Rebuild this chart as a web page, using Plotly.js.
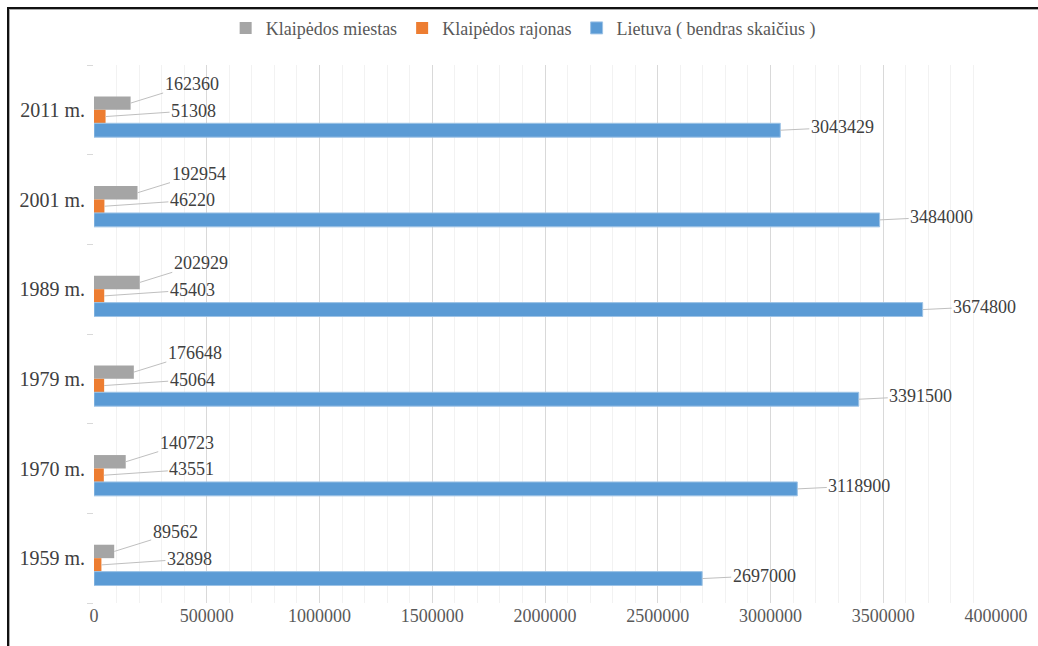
<!DOCTYPE html>
<html>
<head>
<meta charset="utf-8">
<script src="https://cdn.plot.ly/plotly-3.0.1.min.js"></script>
<style>
  html, body { margin: 0; padding: 0; background: #fff; overflow: hidden; }
  #wrap { position: relative; width: 1038px; height: 646px; }
  #chart { width: 1038px; height: 646px; }
  #frame { position: absolute; left: 7px; top: 7px; width: 1100px; height: 700px;
           border-top: 2px solid #111; border-left: 2px solid #111; pointer-events: none;
           box-shadow: inset 1px 1px 0 #aaa; }
</style>
</head>
<body>
<div id="wrap">
  <div id="chart"></div>
  <div id="frame"></div>
</div>
<script>
// ---- data ----
const categories = ['1959 m.', '1970 m.', '1979 m.', '1989 m.', '2001 m.', '2011 m.'];
const seriesNames = ['Klaipėdos miestas', 'Klaipėdos rajonas', 'Lietuva ( bendras skaičius )'];
const miestas = [89562, 140723, 176648, 202929, 192954, 162360];
const rajonas = [32898, 43551, 45064, 45403, 46220, 51308];
const lietuva = [2697000, 3118900, 3391500, 3674800, 3484000, 3043429];
const xTickVals = [0, 500000, 1000000, 1500000, 2000000, 2500000, 3000000, 3500000, 4000000];

// ---- styling ----
const colors = ['#A5A5A5', '#ED7D31', '#5B9BD5'];
const seriesData = [miestas, rajonas, lietuva];
const barWidths = [0.15, 0.15, 0.155];
const barOffsets = [0, -0.15, -0.305];
const labelShift = [{ax: 61, ay: -19}, {ax: 88, ay: -6}, {ax: 62, ay: -3}];
const serif = 'Liberation Serif';

const traces = seriesData.map((vals, i) => ({
  type: 'bar',
  orientation: 'h',
  name: seriesNames[i],
  y: categories,
  x: vals,
  width: categories.map(() => barWidths[i]),
  offset: categories.map(() => barOffsets[i]),
  marker: {
    color: colors[i],
    line: { width: i === 2 ? 1 : 0, color: '#9DC3E6' }
  },
  hoverinfo: 'x+name'
}));

const annotations = [];
seriesData.forEach((vals, i) => {
  vals.forEach((v, j) => {
    annotations.push({
      x: v,
      y: j + barOffsets[i] + barWidths[i] / 2,
      xref: 'x', yref: 'y',
      text: String(v),
      showarrow: true,
      arrowhead: 0,
      arrowwidth: 1,
      arrowcolor: '#BFBFBF',
      standoff: 0,
      ax: labelShift[i].ax,
      ay: labelShift[i].ay,
      font: { family: serif, size: 18, color: '#404040' }
    });
  });
});

const layout = {
  width: 1038,
  height: 646,
  font: { family: serif, size: 17, color: '#595959' },
  margin: { l: 94, r: 42, t: 65, b: 43 },
  paper_bgcolor: '#fff',
  plot_bgcolor: '#fff',
  barmode: 'overlay',
  showlegend: true,
  legend: {
    orientation: 'h',
    xref: 'container', yref: 'container',
    x: 0.504, xanchor: 'center',
    y: 0.985, yanchor: 'top',
    font: { family: serif, size: 18, color: '#595959' },
    itemwidth: 30,
    traceorder: 'normal'
  },
  xaxis: {
    range: [0, 4000000],
    tickvals: xTickVals,
    tickformat: 'd',
    showgrid: true,
    gridcolor: '#D9D9D9',
    gridwidth: 1,
    zeroline: false,
    showline: false,
    ticks: '',
    tickfont: { family: serif, size: 18, color: '#595959' },
    minor: { dtick: 100000, showgrid: true, gridcolor: '#F2F2F2', gridwidth: 1, ticks: '' },
    fixedrange: true
  },
  yaxis: {
    type: 'category',
    categoryorder: 'array',
    categoryarray: categories,
    range: [-0.5, categories.length - 0.5],
    showgrid: false,
    zeroline: false,
    showline: false,
    ticks: 'outside',
    tickson: 'boundaries',
    ticklen: 6,
    tickcolor: '#D9D9D9',
    ticklabelstandoff: 8,
    tickfont: { family: serif, size: 20, color: '#404040' },
    fixedrange: true
  },
  annotations: annotations
};

Plotly.newPlot('chart', traces, layout, { displayModeBar: false, staticPlot: true });
</script>
</body>
</html>
